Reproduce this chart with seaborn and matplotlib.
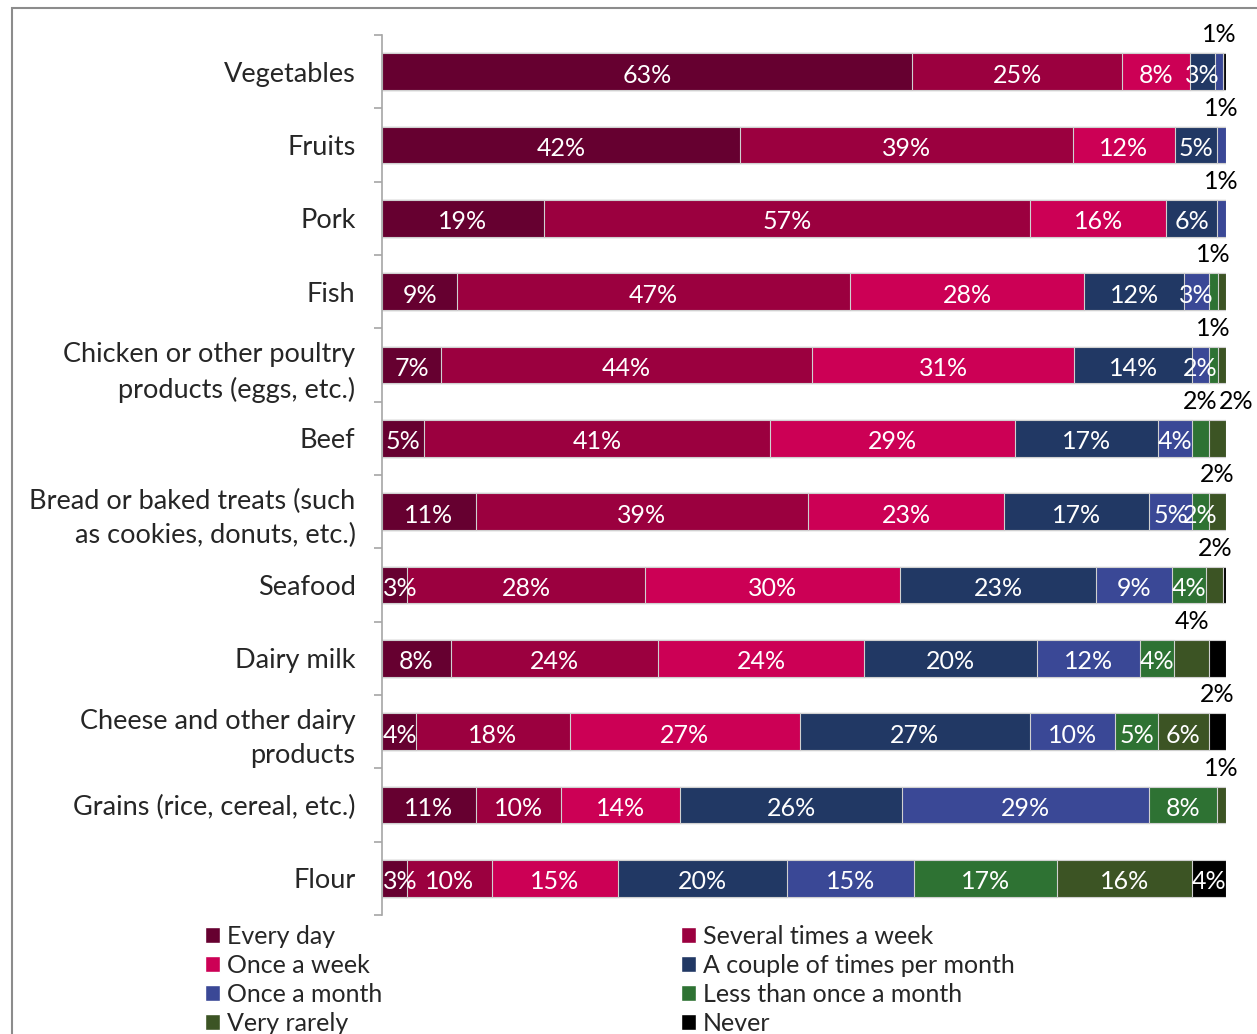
import numpy as np
import pandas as pd
import seaborn as sns
import matplotlib.pyplot as plt
from matplotlib.patches import Patch, Rectangle

categories = ['Vegetables', 'Fruits', 'Pork', 'Fish',
              'Chicken or other poultry\nproducts (eggs, etc.)', 'Beef',
              'Bread or baked treats (such\nas cookies, donuts, etc.)', 'Seafood',
              'Dairy milk', 'Cheese and other dairy\nproducts',
              'Grains (rice, cereal, etc.)', 'Flour']
frequencies = ['Every day', 'Several times a week', 'Once a week',
               'A couple of times per month', 'Once a month',
               'Less than once a month', 'Very rarely', 'Never']
every_day = [63, 42, 19, 9, 7, 5, 11, 3, 8, 4, 11, 3]
several_week = [25, 39, 57, 47, 44, 41, 39, 28, 24, 18, 10, 10]
once_week = [8, 12, 16, 28, 31, 29, 23, 30, 24, 27, 14, 15]
couple_month = [3, 5, 6, 12, 14, 17, 17, 23, 20, 27, 26, 20]
once_month = [1, 1, 1, 3, 2, 4, 5, 9, 12, 10, 29, 15]
less_month = [0, 0, 0, 1, 1, 2, 2, 4, 4, 5, 8, 17]
very_rarely = [0, 0, 0, 1, 1, 2, 2, 2, 4, 6, 1, 16]
never = [0.3, 0, 0, 0, 0, 0, 0, 0.3, 2, 2, 0, 4]

colors = ['#660030', '#9b003f', '#cc0055', '#213864',
          '#3a4896', '#2e7233', '#3c5424', '#000000']

# (row, segment) of small shares labelled above the bar / not labelled at all
labels_above = [(0, 4), (1, 4), (2, 4), (3, 5), (4, 5), (5, 5), (5, 6),
                (6, 6), (7, 6), (8, 6), (9, 7), (10, 6)]
unlabeled = [(0, 7), (3, 6), (4, 6), (7, 7), (8, 7)]

df = pd.DataFrame([every_day, several_week, once_week, couple_month,
                   once_month, less_month, very_rarely, never],
                  index=frequencies, columns=categories).T
share = df.div(df.sum(axis=1), axis=0) * 100
cum = share.cumsum(axis=1)

sns.set_style('white')
plt.rcParams['font.family'] = ['Lato', 'DejaVu Sans']
fs = 18

fig = plt.figure(figsize=(12.57, 10.34), dpi=100)
ax = fig.add_axes([382 / 1257, 1 - 915 / 1034, 844 / 1257, 880 / 1034])

for i in reversed(range(len(frequencies))):
    sns.barplot(x=cum.iloc[:, i].values, y=categories, orient='h',
                color=colors[i], saturation=1, width=0.5,
                edgecolor='#d0d0d0', linewidth=0.8, ax=ax)

for r in range(len(categories)):
    last_up = None
    for s in range(len(frequencies)):
        v = df.iloc[r, s]
        if v <= 0 or (r, s) in unlabeled:
            continue
        x = cum.iloc[r, s] - share.iloc[r, s] / 2
        if (r, s) in labels_above:
            if last_up is not None and x - last_up < 4.2:
                x = last_up + 4.2
            last_up = x
            ax.text(x, r - 0.53, f'{v:g}%', ha='center', va='center_baseline',
                    color='black', fontsize=fs)
        elif x < 2.2:
            ax.text(0.1, r + 0.02, f'{v:g}%', ha='left', va='center_baseline',
                    color='white', fontsize=fs)
        else:
            ax.text(x, r + 0.02, f'{v:g}%', ha='center', va='center_baseline',
                    color='white', fontsize=fs)

ax.set_xlim(0, 100)
ax.set_ylim(11.5, -0.5)
ax.set_xticks([])
ax.set_xlabel('')
ax.set_ylabel('')
ax.set_yticks(range(len(categories)))
ax.set_yticklabels(categories, fontsize=19.5, linespacing=1.45)
ax.set_yticks(np.arange(-0.5, len(categories), 1), minor=True)
ax.tick_params(axis='y', which='major', left=False, length=0, pad=19)
ax.tick_params(axis='y', which='minor', left=True, length=6, width=1.2,
               color='#a6a6a6', direction='out')
for side in ['top', 'right', 'bottom']:
    ax.spines[side].set_visible(False)
ax.spines['left'].set_color('#a6a6a6')
ax.spines['left'].set_linewidth(1.2)

# chart frame (cut off on the right and bottom)
fig.patches.append(Rectangle((12 / 1257, -0.1), 2, 1.1 - 8 / 1034,
                             transform=fig.transFigure, fill=False,
                             edgecolor='#8c8c8c', linewidth=1.5))

order = [0, 2, 4, 6, 1, 3, 5, 7]
handles = [Patch(facecolor=colors[k], label=frequencies[k]) for k in order]
fig.legend(handles=handles, loc='upper left',
           bbox_to_anchor=(205 / 1257, 1 - 925 / 1034), ncol=2,
           frameon=False, fontsize=fs, handlelength=0.58, handleheight=0.58,
           handletextpad=0.3, labelspacing=0.24, columnspacing=11.95,
           borderpad=0, borderaxespad=0)

fig.savefig('out.png', dpi=100)
